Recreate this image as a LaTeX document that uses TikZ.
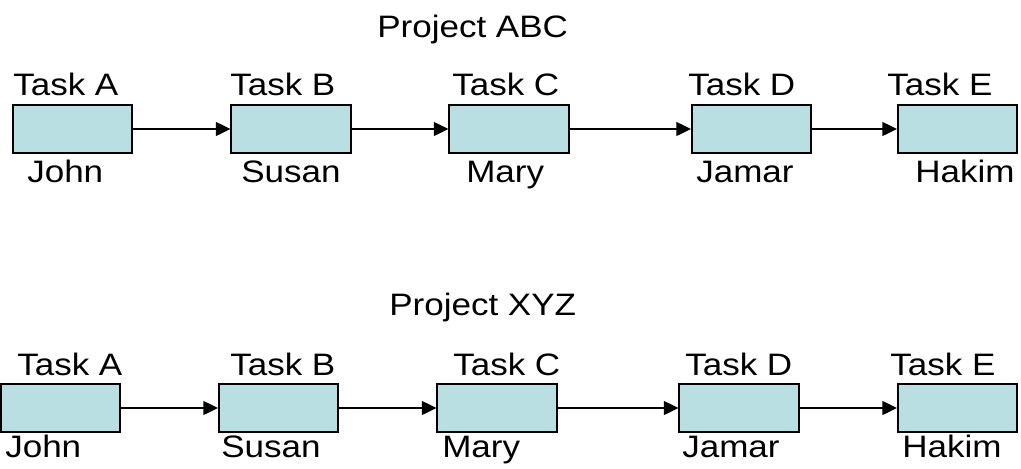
\documentclass[tikz,border=0pt]{standalone}
\usepackage{fontspec}
\setmainfont[FakeStretch=1.13]{Liberation Sans}
\usetikzlibrary{arrows.meta}
\definecolor{taskfill}{RGB}{185,223,226}
\tikzset{task/.style={
    draw=black,
    line width=1.3pt,
    fill=taskfill,
    minimum width=89.5pt,
    minimum height=36pt,
    inner sep=0pt,
    },
    lbl/.style={anchor=base west, inner sep=0pt, font=\fontsize{23.25}{28}\selectfont},
    link/.style={line width=1.1pt, -{Triangle[length=11pt,width=10.5pt]}},
}

\begin{document}
\begin{tikzpicture}[x=0.75pt,y=-0.75pt]
\useasboundingbox (0,0) rectangle (1021,468);
% project ABC
\node[lbl] (abc) at (377,37) {Project ABC};
\node[task] (abcA) at (72.5,129) {}; % task A
\node[task] (abcB) at (291,129) {}; % task B
\node[task] (abcC) at (509,129) {}; % task C
\node[task] (abcD) at (751.5,129) {}; % task D
\node[task] (abcE) at (957.5,129) {}; % task E
\node[lbl] (abcAt) at (13,95.5) {Task A};
\node[lbl] (abcBt) at (230,95.5) {Task B};
\node[lbl] (abcCt) at (452,95.5) {Task C};
\node[lbl] (abcDt) at (688,95.5) {Task D};
\node[lbl] (abcEt) at (887,95.5) {Task E};
\node[lbl] (abcAn) at (27,182) {John};
\node[lbl] (abcBn) at (241,182) {Susan};
\node[lbl] (abcCn) at (466,182) {Mary};
\node[lbl] (abcDn) at (696,182) {Jamar};
\node[lbl] (abcEn) at (915,182) {Hakim};
\draw[link] (abcA) -- (abcB);
\draw[link] (abcB) -- (abcC);
\draw[link] (abcC) -- (abcD);
\draw[link] (abcD) -- (abcE);
% project XYZ
\node[lbl] (xyz) at (389,315) {Project XYZ};
\node[task] (xyzA) at (60.5,408) {}; % task A
\node[task] (xyzB) at (278.5,408) {}; % task B
\node[task] (xyzC) at (497,408) {}; % task C
\node[task] (xyzD) at (739,408) {}; % task D
\node[task] (xyzE) at (957.5,408) {}; % task E
\node[lbl] (xyzAt) at (17,375) {Task A};
\node[lbl] (xyzBt) at (230,375) {Task B};
\node[lbl] (xyzCt) at (453,375) {Task C};
\node[lbl] (xyzDt) at (685,375) {Task D};
\node[lbl] (xyzEt) at (890,375) {Task E};
\node[lbl] (xyzAn) at (5,457) {John};
\node[lbl] (xyzBn) at (221,457) {Susan};
\node[lbl] (xyzCn) at (442,457) {Mary};
\node[lbl] (xyzDn) at (682,457) {Jamar};
\node[lbl] (xyzEn) at (902,457) {Hakim};
\draw[link] (xyzA) -- (xyzB);
\draw[link] (xyzB) -- (xyzC);
\draw[link] (xyzC) -- (xyzD);
\draw[link] (xyzD) -- (xyzE);
\end{tikzpicture}
\end{document}
